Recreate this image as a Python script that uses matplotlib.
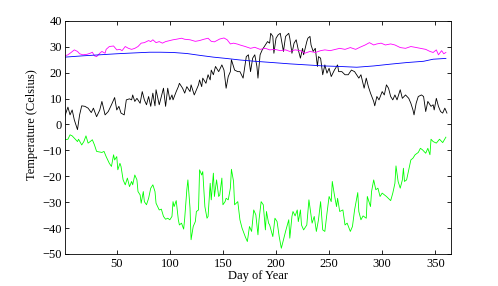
import matplotlib
matplotlib.use("Agg")
import matplotlib.pyplot as plt

plt.rcParams['font.family'] = ['Liberation Serif', 'DejaVu Serif']
plt.rcParams['font.size'] = 9

# daily temperatures (day, value)
black_days = [1, 4, 6, 8, 10, 13, 15, 17, 20, 23, 26, 28, 31, 34, 36, 39, 42, 45, 48, 50,
              52, 54, 57, 59, 62, 64, 65, 67, 69, 72, 74, 76, 78, 80, 82, 84, 85, 86, 87, 90,
              92, 94, 96, 98, 100, 102, 103, 106, 108, 109, 112, 114, 116, 119, 120, 123, 125,
              127, 128, 130, 131, 134, 136, 138, 139, 141, 143, 146, 149, 151, 153, 155, 157,
              158, 160, 161, 164, 166, 169, 172, 174, 176, 178, 180, 182, 183, 185, 187, 190,
              192, 194, 195, 197, 198, 200, 202, 204, 207, 209, 212, 213, 215, 217, 219, 221,
              223, 225, 226, 229, 230, 232, 233, 235, 237, 239, 240, 242, 244, 246, 248, 250,
              252, 255, 258, 259, 262, 265, 268, 271, 274, 278, 280, 283, 285, 287, 289, 292,
              293, 295, 297, 300, 302, 304, 306, 308, 310, 312, 314, 317, 319, 322, 325, 327,
              329, 330, 332, 334, 337, 339, 341, 343, 346, 348, 349, 351, 353, 355, 357, 359, 361]
black_vals = [3.1, 6.7, 3.7, 5.6, 1.8, -2, 3.7, 7.2, 7, 6.3, 4.6, 6.3, 3, 5.6, 8.9, 3.7, 5, 7.6, 10.4, 5.6,
              7, 4.4, 3.7, 9.5, 9.9, 9.5, 11.4, 8.9, 10.1, 8.2, 12.7, 9.5, 7.6, 10.8, 7, 12.1, 9.5, 7.2, 13.4, 7.6,
              10.8, 14, 7, 14, 9.5, 11.4, 9.5, 12.7, 14.6, 15.9, 14, 12.1, 14.6, 12.7, 15.3, 11.4, 13.4,
              15.3, 17.2, 14.6, 17.9, 15.9, 19.2, 17.2, 21, 19.2, 22.4, 20.4, 23, 21, 14, 18.5, 20.4,
              25, 22.4, 21, 20.4, 20.4, 17.9, 26.2, 26.9, 20.4, 25.6, 26.9, 22.4, 17.9, 26.9, 28.8, 30.7,
              32, 31.4, 35.2, 34, 27.5, 33.3, 34.6, 35.2, 28.2, 34, 35.2, 33.3, 27.5, 31.4, 32.7, 28.8,
              25.6, 29.4, 26.9, 32, 33.3, 34, 30.7, 28.2, 29.4, 22.4, 26.2, 25.6, 19.2, 23, 19.8, 21.7,
              18.5, 21, 23, 20.4, 20.4, 19.2, 19.2, 21, 20.4, 17.9, 19.2, 14, 17.9, 14.6, 12.1, 8.9,
              7.2, 10.8, 9.5, 12.7, 11.4, 15.3, 14, 10.8, 9.5, 11.4, 9.5, 13.4, 10.1, 11.4, 10.1, 8.2,
              5.6, 3.7, 8.2, 10.8, 11.4, 10.8, 5, 8.9, 7, 7.6, 5.6, 10.1, 7, 5, 4.4, 6.3, 4.4]

magenta_days = [1, 4, 7, 10, 13, 15, 18, 22, 25, 27, 29, 31, 34, 36, 39, 40, 43, 47, 50, 53,
                55, 58, 61, 64, 67, 70, 73, 76, 80, 82, 84, 87, 90, 93, 96, 100, 103, 106, 111,
                114, 119, 124, 128, 132, 136, 139, 142, 147, 151, 154, 157, 160, 164, 166, 171,
                176, 180, 185, 190, 194, 199, 204, 209, 213, 218, 223, 227, 232, 237, 242, 246,
                251, 256, 260, 265, 270, 275, 279, 284, 288, 292, 295, 299, 303, 308, 312, 317,
                322, 327, 331, 336, 341, 345, 348, 351, 353, 356, 358, 360]
magenta_vals = [26.5, 26.9, 27.8, 28.8, 28.2, 27.3, 26.9, 27.1, 27.5, 27.9, 26.5, 26.2, 27.5, 28.2, 27.5, 29, 30.1, 30.3, 28.8, 29,
                28.5, 30.1, 29.4, 29, 29.4, 30.1, 31.4, 31.6, 32.4, 32, 32.7, 31.6, 32, 31.4, 32, 32.4, 32.7, 32.9, 33.3,
                32.9, 32.7, 32.1, 32.4, 32.9, 33.3, 32.1, 31.9, 33, 33.4, 32.7, 31.1, 31.4, 31, 30.7, 30.1,
                29.4, 29.8, 29, 29.4, 28.8, 29, 28.5, 28.8, 28.2, 28.8, 28.5, 27.5, 28.2, 27.8, 28.5, 28.8,
                28.5, 29, 29.4, 29, 29.7, 29, 29.8, 30.7, 31.6, 30.7, 31.1, 31.4, 30.7, 31.1, 30.7, 29.7,
                29.4, 30.1, 29.8, 29.4, 29, 28.2, 27.8, 28.8, 26.9, 28.5, 27.3, 27.8]

blue_days = [1, 18, 34, 50, 65, 81, 91, 103, 116, 128, 141, 153, 166, 180, 197, 213, 229,
             245, 260, 276, 292, 308, 323, 339, 348, 360]
blue_vals = [26.0, 26.5, 26.9, 27.3, 27.6, 27.9, 27.9, 27.8, 27.4, 26.7, 26.0, 25.5, 24.9, 24.4,
             23.9, 23.4, 23.0, 22.6, 22.4, 22.1, 22.6, 23.3, 23.9, 24.4, 25.2, 25.5]

green_days = [1, 4, 6, 8, 10, 13, 14, 17, 19, 21, 23, 25, 27, 29, 31, 36, 38, 40, 43, 45,
              47, 48, 50, 51, 53, 54, 56, 58, 60, 62, 64, 65, 67, 69, 70, 72, 73, 75, 76, 78,
              80, 82, 84, 86, 87, 90, 92, 94, 96, 98, 100, 102, 103, 104, 106, 108, 109, 111,
              113, 114, 116, 117, 119, 120, 122, 124, 125, 127, 128, 130, 131, 133, 135, 136,
              138, 139, 141, 142, 144, 146, 147, 149, 150, 152, 153, 155, 157, 158, 160, 161,
              164, 166, 168, 171, 173, 175, 177, 179, 181, 183, 184, 186, 188, 190, 191, 193,
              194, 197, 199, 201, 203, 205, 207, 209, 212, 213, 215, 216, 218, 220, 221, 223,
              224, 226, 229, 231, 234, 236, 238, 240, 242, 244, 246, 248, 250, 252, 253, 255,
              257, 258, 260, 263, 265, 267, 270, 272, 274, 277, 278, 280, 282, 285, 286, 289,
              290, 292, 294, 296, 298, 300, 304, 308, 310, 312, 313, 315, 317, 319, 320, 321,
              323, 325, 327, 329, 331, 334, 336, 338, 341, 343, 345, 346, 348, 351, 354, 357, 360]
green_vals = [-5.9, -5.7, -4, -4.4, -5.3, -6.6, -5.7, -7.9, -6.6, -4.4, -7.2, -6.6, -5.9, -7.9, -10.4, -10.8, -10.4, -12.4, -15, -16.2,
              -11.7, -13.7, -12.4, -17.5, -15, -16.2, -21.4, -23.3, -20.7, -24, -22, -23.3, -19.5, -21.4, -25.9, -27.2, -30.4, -25.9, -29.8, -31,
              -28.5, -24.6, -23.3, -25.9, -30.4, -33, -32.7, -35.5, -36.6, -36.2, -36.8, -35.5, -29.8, -31.7, -29.4, -36.8, -38.8, -38.1,
              -40.4, -36.2, -25.2, -21.4, -32.3, -44.5, -39.4, -37.5, -33.6, -33, -17.5, -19.5, -18.2, -31.7, -36.2, -35.5,
              -22.7, -29.1, -18.8, -27.8, -21.4, -27.8, -27.2, -20.7, -31, -29.8, -28.5, -29.1, -24.6, -17.3, -22, -31,
              -29.8, -36.8, -40, -43.3, -45.2, -39.4, -41.3, -33, -34.9, -42.6, -36.8, -29.8, -31, -40.7, -33.6, -38.1,
              -38.8, -43.3, -36.2, -37.5, -43.3, -47.8, -44.5, -41.3, -36.8, -43.9, -35.5, -33.6, -35.3, -33, -37.5, -33,
              -38.8, -40.7, -38.8, -29.1, -38.1, -35.5, -41.3, -36.8, -29.8, -40.7, -41.3, -34.3, -27.8, -29.8, -22, -27.2,
              -31.7, -28.5, -33.6, -33, -38.8, -38.1, -41.3, -39.4, -33, -26.3, -33.6, -36.8, -35.3, -36.2, -27.8, -31.7,
              -25.9, -21.4, -25.2, -24.6, -27.8, -26.5, -27.8, -29.4, -26.5, -22.7, -16, -22, -24.6, -21.4, -16.9, -22,
              -21.4, -17.5, -13.7, -13, -11.7, -10.8, -9.2, -9.8, -11.1, -9.2, -11.7, -5.7, -6.6, -7.2, -5.7, -7, -4.9]

fig = plt.figure(figsize=(4.98, 2.86), dpi=100)
ax = fig.add_axes([0.13, 0.112, 0.776, 0.815])

ax.plot(black_days, black_vals, color='k', lw=0.6)
ax.plot(magenta_days, magenta_vals, color='#ff00ff', lw=0.6)
ax.plot(blue_days, blue_vals, color='#0000ff', lw=0.6)
ax.plot(green_days, green_vals, color='#00ff00', lw=0.6)

ax.set_xlim(1, 365)
ax.set_ylim(-50, 40)
ax.set_xticks(range(50, 351, 50))
ax.set_yticks(range(-50, 41, 10))
ax.tick_params(direction='in', top=True, right=True, length=3, width=0.6)
ax.tick_params(axis='y', pad=2)
ax.tick_params(axis='x', pad=3)
for s in ax.spines.values():
    s.set_linewidth(0.6)
ax.set_xlabel('Day of Year', labelpad=0)
ax.set_ylabel('Temperature (Celsius)')
ax.yaxis.set_label_coords(-0.068, 0.556)

fig.savefig('out.png', dpi=100)
